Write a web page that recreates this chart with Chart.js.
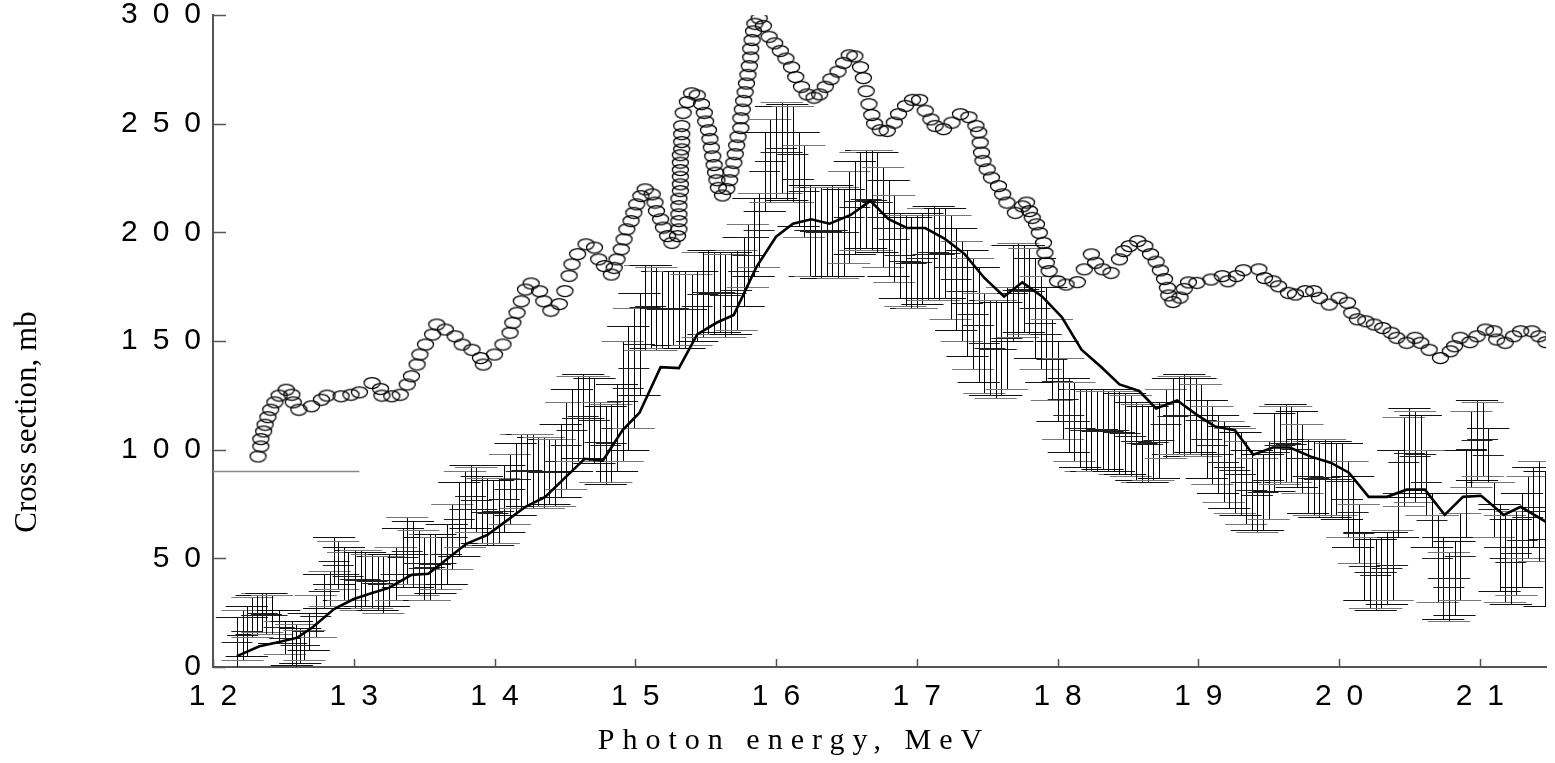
<!DOCTYPE html>
<html>
<head>
<meta charset="utf-8">
<script src="https://cdn.jsdelivr.net/npm/chart.js@4.4.1/dist/chart.umd.min.js"></script>
<style>
  html, body { margin: 0; padding: 0; background: #fff; }
  #wrap { width: 1555px; height: 763px; }
</style>
</head>
<body>
<div id="wrap"><canvas id="chart" width="1555" height="763"></canvas></div>
<script>
// open circles (photon energy, MeV / cross section, mb)
const circE = [12.32,12.34,12.34,12.36,12.37,12.39,12.41,12.44,12.47,12.52,12.56,12.57,12.61,12.70,12.77,12.81,12.91,12.98,13.04,13.13,
  13.19,13.20,13.27,13.33,13.38,13.41,13.45,13.47,13.51,13.56,13.59,13.65,13.72,13.77,13.84,13.90,13.92,14.00,14.06,14.11,
  14.13,14.16,14.19,14.22,14.26,14.32,14.35,14.40,14.46,14.50,14.53,14.55,14.59,14.65,14.71,14.74,14.78,14.83,14.85,14.87,
  14.90,14.92,14.94,14.97,14.99,15.01,15.04,15.07,15.12,15.14,15.15,15.18,15.20,15.23,15.26,15.30,15.31,15.31,15.31,15.31,
  15.31,15.32,15.32,15.32,15.32,15.32,15.32,15.33,15.33,15.33,15.33,15.34,15.37,15.40,15.44,15.47,15.49,15.50,15.52,15.53,
  15.54,15.55,15.56,15.57,15.58,15.59,15.62,15.65,15.67,15.68,15.70,15.71,15.72,15.73,15.75,15.75,15.76,15.77,15.78,15.79,
  15.80,15.81,15.82,15.82,15.83,15.84,15.85,15.88,15.91,15.95,15.99,16.03,16.07,16.11,16.14,16.18,16.22,16.27,16.31,16.35,
  16.39,16.44,16.48,16.52,16.56,16.60,16.62,16.64,16.66,16.68,16.70,16.74,16.79,16.84,16.87,16.92,16.97,17.02,17.06,17.10,
  17.13,17.19,17.25,17.31,17.37,17.42,17.44,17.45,17.46,17.47,17.50,17.53,17.58,17.61,17.64,17.70,17.75,17.78,17.80,17.82,
  17.85,17.87,17.90,17.91,17.92,17.94,18.00,18.06,18.14,18.19,18.24,18.27,18.32,18.38,18.44,18.47,18.51,18.57,18.62,18.66,
  18.70,18.73,18.76,18.78,18.79,18.82,18.87,18.90,18.93,18.99,19.09,19.17,19.21,19.27,19.32,19.43,19.47,19.53,19.57,19.64,
  19.69,19.76,19.82,19.86,19.93,20.00,20.06,20.09,20.13,20.19,20.25,20.31,20.37,20.41,20.48,20.54,20.58,20.64,20.72,20.79,
  20.82,20.86,20.93,20.98,21.04,21.10,21.12,21.18,21.24,21.29,21.37,21.42,21.47];
const circV = [96.9,101.5,104.9,108.4,111.5,115,118.4,121.8,124.9,127.6,125.3,121.8,118.4,120,123,124.9,124.6,125.3,126.4,130.7,
  128,124.9,124.6,125.3,130,133.8,139.2,143.8,148.4,153,157.6,155.3,152.2,148.4,146,142.2,139.2,143.8,148.4,153.8,
  158.4,163,168.3,173.7,176.5,172.9,168.3,164,167,173,180,185.3,190,194.5,193,187.6,184.5,180.6,183.7,187.6,
  192.2,196.8,201.4,205.2,209,212.9,216.7,219.8,217.5,213.7,209.8,206,202.2,198.3,195.2,198.3,201.4,205.2,208.3,212.1,
  215.5,219,222.1,225.6,228.7,232.1,235.5,238.2,241.6,245.2,249,255,260,264,263,259,255,251,247,243,
  239,235,231,227.5,224,220.5,217,220,224,228,232,236,240,244,248,252.5,256.5,260.5,264.5,268.5,
  272.5,276.5,280.5,284.5,288.5,292.5,296,298.5,295,290,287,283.5,280,276,271.5,267,263.5,262,263.5,267,
  270.5,274,278,281.5,281,276,271,265,259,254,250,247,246.7,250.5,254.4,258.2,261,261,256,252,
  249,247.5,250.5,254.4,253,249,246,241.3,236.7,232.9,229,225.2,221.3,217.5,213.7,209,212,213.7,209.8,206.7,
  203.7,199.8,195.2,190.6,186,182.2,177.5,176,177.1,183,189.9,186,183,181.4,187.6,191.4,193.7,196,193.7,190,
  186.5,182.5,178.5,174.5,171,168,170,174,177,176.8,178.3,179.9,177.5,179.9,182.6,183,179,177.5,175.2,172.2,
  171.4,173,173,169.9,166.8,169.9,167.6,163,160,159.1,157.6,156,153.8,151.5,149.2,151.5,149.2,146,142.2,145.3,
  147.6,151.5,149.5,152.2,155.3,154.5,150.7,149.2,152.2,154.5,154.5,152.2,149.5];

// solid curve
const fitE = [12.17,12.33,12.47,12.60,12.71,12.86,13.00,13.13,13.25,13.41,13.53,13.67,13.80,13.95,14.08,14.22,14.36,14.50,14.64,14.77,
  14.91,15.03,15.18,15.31,15.44,15.58,15.70,15.86,16.00,16.12,16.25,16.38,16.53,16.67,16.80,16.93,17.06,17.20,17.34,17.48,
  17.62,17.75,17.89,18.03,18.17,18.31,18.44,18.58,18.70,18.85,18.99,19.12,19.26,19.39,19.53,19.65,19.80,19.94,20.07,20.21,
  20.34,20.48,20.61,20.75,20.88,21.01,21.17,21.29,21.47];
const fitV = [5,9.5,11.5,13.5,18.4,26.7,31.3,34,36.4,42.4,42.9,50,56.7,60.8,67,73.7,78.3,87,95.8,95,
  109,117,138,137.5,153,158.5,162,184,198,204,206,204,208,214.5,206,202,202,197,190,179,
  170.5,177,170.5,161,146,138,130,127,119,122.6,116,110.6,109,97.7,101,101,96.8,94,89.4,78.3,
  78.3,81.6,81.6,70,78.3,78.8,70,73.7,66.8];

// thin grey reference segment
const refE = [12.0, 13.04];
const refV = [90, 90];

// error bars: energy, lower and upper end
const barE = [12.17,12.21,12.24,12.28,12.31,12.35,12.38,12.42,12.47,12.51,12.56,12.59,12.62,12.65,12.68,12.73,12.79,12.83,12.86,12.89,
  12.93,12.96,13.01,13.05,13.08,13.13,13.17,13.21,13.25,13.30,13.35,13.38,13.42,13.46,13.50,13.54,13.58,13.62,13.66,13.70,
  13.75,13.79,13.83,13.87,13.91,13.95,13.99,14.03,14.07,14.11,14.15,14.19,14.23,14.27,14.31,14.35,14.39,14.43,14.47,14.51,
  14.55,14.59,14.63,14.67,14.71,14.75,14.79,14.83,14.87,14.91,14.95,14.99,15.03,15.07,15.11,15.15,15.19,15.23,15.27,15.31,
  15.35,15.40,15.44,15.48,15.52,15.56,15.60,15.64,15.68,15.72,15.77,15.80,15.84,15.88,15.92,15.96,16.00,16.04,16.08,16.12,
  16.16,16.20,16.24,16.28,16.32,16.36,16.40,16.44,16.48,16.52,16.56,16.60,16.64,16.68,16.72,16.76,16.80,16.84,16.88,16.92,
  16.96,17.00,17.04,17.08,17.12,17.16,17.20,17.24,17.28,17.32,17.36,17.40,17.44,17.48,17.52,17.56,17.60,17.64,17.68,17.72,
  17.76,17.80,17.84,17.88,17.92,17.96,18.00,18.04,18.08,18.12,18.16,18.20,18.24,18.28,18.32,18.36,18.40,18.44,18.48,18.52,
  18.56,18.60,18.64,18.68,18.72,18.77,18.82,18.86,18.90,18.94,18.98,19.02,19.06,19.10,19.14,19.18,19.22,19.26,19.30,19.34,
  19.38,19.42,19.46,19.50,19.54,19.58,19.62,19.66,19.70,19.74,19.78,19.82,19.86,19.90,19.94,19.98,20.02,20.06,20.10,20.14,
  20.18,20.22,20.26,20.30,20.34,20.38,20.42,20.46,20.50,20.54,20.58,20.62,20.66,20.70,20.74,20.78,20.82,20.86,20.90,20.94,
  20.98,21.02,21.06,21.10,21.14,21.18,21.22,21.26,21.30,21.34,21.38,21.42,21.46];
const barLo = [0,3,5,14,15,16,15,15,11,6,1,0,2,3,8,14,27,28,38,36,
  31,31,27,26,28,27,26,25,28,31,37,38,37,33,31,31,34,36,38,45,
  51,55,64,62,57,56,56,57,62,66,70,73,74,73,74,73,75,74,78,82,
  90,95,96,95,94,85,84,85,90,95,100,110,125,146,147,146,147,147,148,147,
  147,148,150,152,153,153,154,152,153,155,166,175,180,184,210,214,216,218,215,214,
  203,198,180,180,179,180,180,179,180,186,190,192,193,192,191,184,180,177,170,166,
  165,165,167,169,170,169,170,160,155,150,143,137,131,126,125,124,125,128,150,152,
  154,153,142,137,131,123,113,105,99,95,92,90,90,90,91,90,90,89,89,88,
  86,85,85,86,87,96,98,98,97,98,99,97,87,84,80,76,73,71,70,66,
  63,62,63,68,81,84,85,85,83,80,71,70,69,70,69,70,68,60,55,48,
  31,27,26,27,29,31,60,74,78,76,80,70,55,30,22,21,24,31,60,83,
  86,88,85,60,35,30,29,33,37,50,55,49,28];
const barHi = [23,26,28,32,33,34,34,33,26,21,21,20,18,17,25,33,43,44,60,58,
  55,53,54,54,53,52,51,51,52,55,64,69,67,63,60,61,61,60,66,75,
  85,90,93,92,88,87,86,87,93,98,103,107,107,107,106,106,105,105,112,122,
  128,134,135,134,133,122,120,121,130,150,157,165,172,185,185,184,182,182,182,182,
  182,181,182,191,192,191,191,190,191,192,198,204,216,218,246,252,258,260,259,258,
  246,240,222,221,221,221,222,221,220,228,233,237,238,238,237,230,224,217,209,208,
  207,208,209,211,212,211,211,208,202,196,192,188,184,172,169,169,168,175,194,195,
  194,193,188,180,175,160,150,142,133,131,128,128,128,127,128,127,128,127,126,125,
  122,121,120,121,122,128,133,134,135,134,133,130,123,120,116,113,111,110,108,104,
  100,96,98,104,117,120,121,120,118,112,105,104,104,105,104,103,103,95,88,75,
  62,60,59,60,62,63,100,115,119,118,116,100,80,70,60,53,58,71,100,118,
  123,122,110,85,75,70,68,72,80,88,92,95,90];

const spaced = v => String(v).split('').join('\u2002');

const ellipse = (() => {
  const c = document.createElement('canvas');
  c.width = 19; c.height = 14;
  const g = c.getContext('2d');
  g.strokeStyle = '#000';
  g.lineWidth = 1.25;
  g.beginPath();
  g.ellipse(9.5, 7, 8, 5.5, 0, 0, Math.PI * 2);
  g.stroke();
  return c;
})();

const pts = (xs, ys) => xs.map((x, i) => ({ x: x, y: ys[i] }));

// error bars, inward ticks and axis titles
const decor = {
  id: 'decor',
  beforeDatasetsDraw(chart) {
    const { ctx, chartArea: a, scales: { x, y } } = chart;
    ctx.save();
    ctx.beginPath();
    ctx.rect(a.left, a.top - 5, a.right - a.left, a.bottom - a.top + 5);
    ctx.clip();
    ctx.lineWidth = 1;
    for (let i = 0; i < barE.length; i++) {
      const px = Math.round(x.getPixelForValue(barE[i])) + 0.5;
      const lo = Math.round(y.getPixelForValue(barLo[i])) + 0.5;
      const hi = Math.round(y.getPixelForValue(barHi[i])) + 0.5;
      const mid = Math.round(y.getPixelForValue((barLo[i] + barHi[i]) / 2)) + 0.5;
      const c1 = x.getPixelForValue(barE[i] - 0.15), c2 = x.getPixelForValue(barE[i] + 0.15);
      const m1 = x.getPixelForValue(barE[i] - 0.11), m2 = x.getPixelForValue(barE[i] + 0.11);
      ctx.strokeStyle = '#000';
      ctx.beginPath();
      ctx.moveTo(px, lo); ctx.lineTo(px, hi);
      ctx.stroke();
      ctx.strokeStyle = i % 2 ? '#777' : '#111';
      ctx.beginPath();
      ctx.moveTo(c1, hi); ctx.lineTo(c2, hi);
      ctx.moveTo(c1, lo); ctx.lineTo(c2, lo);
      ctx.stroke();
      ctx.strokeStyle = '#222';
      ctx.beginPath();
      ctx.moveTo(m1, mid); ctx.lineTo(m2, mid);
      ctx.stroke();
    }
    ctx.restore();
  },
  afterDraw(chart) {
    const { ctx, chartArea: a, scales: { x, y } } = chart;
    ctx.save();
    ctx.strokeStyle = '#555';
    ctx.lineWidth = 1.5;
    ctx.beginPath();
    y.ticks.forEach(t => {
      const py = Math.round(y.getPixelForValue(t.value)) + 0.5;
      ctx.moveTo(a.left, py); ctx.lineTo(a.left + 13, py);
    });
    x.ticks.forEach(t => {
      const px = Math.round(x.getPixelForValue(t.value)) + 0.5;
      ctx.moveTo(px, a.bottom); ctx.lineTo(px, a.bottom - 8);
    });
    ctx.stroke();

    ctx.fillStyle = '#000';
    ctx.font = '30px "Liberation Serif", "Times New Roman", serif';
    ctx.textAlign = 'center';
    ctx.textBaseline = 'middle';
    ctx.letterSpacing = '8px';
    ctx.fillText('Photon energy, MeV', 794, 741);
    ctx.letterSpacing = '0px';
    ctx.translate(28, 422);
    ctx.rotate(-Math.PI / 2);
    ctx.font = '31px "Liberation Serif", "Times New Roman", serif';
    ctx.fillText('Cross section, mb', 0, 0);
    ctx.restore();
  }
};

new Chart(document.getElementById('chart'), {
  type: 'scatter',
  data: {
    datasets: [
      {
        type: 'line',
        data: pts(fitE, fitV),
        borderColor: '#000',
        borderWidth: 2.6,
        pointRadius: 0,
        tension: 0,
        fill: false
      },
      {
        data: pts(circE, circV),
        pointStyle: ellipse,
        pointRadius: 8,
        showLine: false
      },
      {
        type: 'line',
        data: pts(refE, refV),
        borderColor: '#888',
        borderWidth: 1.5,
        pointRadius: 0,
        fill: false
      }
    ]
  },
  options: {
    responsive: false,
    animation: false,
    devicePixelRatio: 1,
    layout: { padding: { top: 15, right: 0, bottom: 0, left: 0 } },
    plugins: { legend: { display: false }, tooltip: { enabled: false } },
    scales: {
      x: {
        type: 'linear',
        position: 'bottom',
        min: 12,
        max: 21.47,
        grid: { display: false },
        border: { display: true, color: '#555', width: 2 },
        ticks: {
          stepSize: 1,
          includeBounds: false,
          padding: 4,
          color: '#000',
          font: { family: '"Liberation Sans", Arial, sans-serif', size: 30 },
          callback: v => spaced(v)
        },
        afterFit(s) { s.height = 96; s.paddingLeft = 0; s.paddingRight = 0; }
      },
      y: {
        type: 'linear',
        min: 0,
        max: 300,
        grid: { display: false },
        border: { display: true, color: '#555', width: 2 },
        ticks: {
          stepSize: 50,
          includeBounds: false,
          padding: 4,
          color: '#000',
          font: { family: '"Liberation Sans", Arial, sans-serif', size: 30 },
          callback: v => spaced(v)
        },
        afterFit(s) { s.width = 213; s.paddingTop = 0; s.paddingBottom = 0; }
      }
    }
  },
  plugins: [decor]
});
</script>
</body>
</html>
